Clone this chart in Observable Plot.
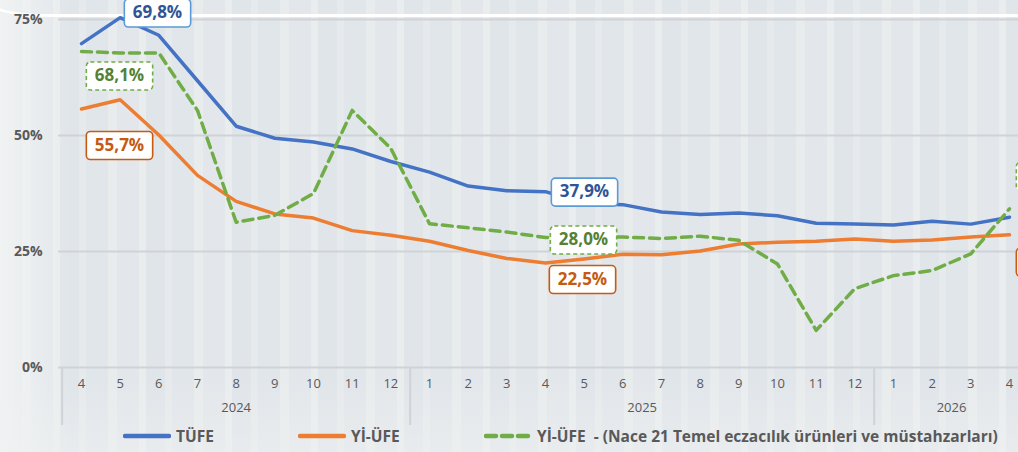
<!DOCTYPE html>
<html>
<head>
<meta charset="utf-8">
<script src="https://cdn.jsdelivr.net/npm/d3@7"></script>
<script src="https://cdn.jsdelivr.net/npm/@observablehq/plot@0.6"></script>
<style>
  html, body { margin: 0; padding: 0; }
  body {
    width: 1018px; height: 452px; overflow: hidden; position: relative;
    font-family: "Open Sans", sans-serif;
    background:
      linear-gradient(to right, rgba(241,243,243,0.95) 0px, rgba(241,243,243,0) 70px),
      linear-gradient(to bottom, rgba(255,255,255,0) 0px, rgba(255,255,255,0) 380px, rgba(238,240,240,0.6) 452px),
      repeating-linear-gradient(90deg, #e1e6eb 0 22px, #e9eced 22px 31px, #e3e7eb 31px 53px, #eaedee 53px 60px, #e0e5ea 60px 79px, #e7eaec 79px 86px);
  }
  #arc {
    position: absolute; left: -12px; top: -100px; width: 1100px; height: 114px;
    border-bottom: 3px solid #ffffff; border-left: 3px solid #ffffff;
    border-bottom-left-radius: 55px 16px; pointer-events: none;
  }
  #chart { position: absolute; left: 0; top: 0; }
  #legend { position: absolute; left: 0; top: 424px; width: 1018px; height: 28px; }
  .item { position: absolute; top: 12px; transform: translateY(-50%); display: flex; align-items: center;
    font-weight: 700; font-size: 15.5px; color: #595959; white-space: pre; }
  .item svg { margin-right: 5px; }
</style>
</head>
<body>
<div id="arc"></div>
<div id="chart"></div>
<div id="legend"></div>
<script>
// ---- data ----
const months = ["4","5","6","7","8","9","10","11","12","1","2","3","4","5","6","7","8","9","10","11","12","1","2","3","4"];
const years = ["2024", "2025", "2026"];
const yearFirst = [0, 9, 21];
const yearLast = [8, 20, 24];
const tufe   = [69.8, 75.4, 71.6, 61.8, 52.0, 49.4, 48.6, 47.1, 44.4, 42.1, 39.1, 38.1, 37.9, 35.4, 35.1, 33.5, 33.0, 33.3, 32.7, 31.1, 30.9, 30.7, 31.5, 30.9, 32.4];
const yiufe  = [55.7, 57.7, 50.1, 41.4, 35.8, 33.1, 32.2, 29.5, 28.5, 27.2, 25.2, 23.5, 22.5, 23.4, 24.4, 24.3, 25.1, 26.6, 27.0, 27.2, 27.7, 27.2, 27.5, 28.1, 28.6];
const nace21 = [68.1, 67.8, 67.8, 55.4, 31.3, 32.8, 37.5, 55.4, 47.2, 31.0, 30.1, 29.2, 28.0, 28.1, 28.1, 27.8, 28.3, 27.4, 22.3, 8.0, 17.0, 19.8, 20.9, 24.5, 34.2];
const yTicks = [0, 25, 50, 75];
const seriesNames = ["TÜFE", "Yİ-ÜFE", "Yİ-ÜFE  - (Nace 21 Temel eczacılık ürünleri ve müstahzarları)"];

// ---- build ----
const idx = d3.range(months.length);
const toRows = arr => arr.map((v, i) => ({i, v}));
const fmt = v => d3.format(".1f")(v).replace(".", ",") + "%";
const BLUE = "#4472c4", ORANGE = "#ed7d31", GREEN = "#70ad47";
const BLUE_T = "#2f5597", ORANGE_T = "#c55a11", GREEN_T = "#548235";

const label = (arr, i, color, dx, dy) => Plot.text([{i, v: arr[i]}], {
  x: "i", y: "v", text: d => fmt(d.v), dx, dy,
  fill: color, fontSize: 17, fontWeight: 700, fontFamily: "Open Sans", textAnchor: "middle"
});

const separators = [yearFirst[0] - 0.5, yearLast[0] + 0.5, yearLast[1] + 0.5];

const chart = Plot.plot({
  width: 1018,
  height: 424,
  marginLeft: 58, marginRight: 0, marginTop: 19, marginBottom: 57,
  style: {background: "transparent", overflow: "visible", fontFamily: "Open Sans"},
  x: {type: "linear", domain: [0, months.length - 1], range: [81, 1009], label: null},
  y: {domain: [0, 75], range: [367, 19], label: null},
  marks: [
    Plot.gridY(yTicks, {stroke: "#cfd3d7", strokeOpacity: 1, strokeWidth: 2}),
    Plot.ruleX(separators, {y1: 0, y2: -12.5, stroke: "#cfd3d7", strokeWidth: 2}),
    Plot.axisY({ticks: yTicks, tickFormat: d => d + "%", tickSize: 0, tickPadding: 16, label: null,
      fontSize: 14, fontWeight: 700, fill: "#595959"}),
    Plot.axisX({ticks: idx, tickFormat: i => months[i], tickSize: 0, tickPadding: 11, label: null,
      fontSize: 13, fill: "#595959"}),
    Plot.text(years, {x: (d, k) => (yearFirst[k] + yearLast[k]) / 2, text: d => d,
      frameAnchor: "bottom", dy: 44, fontSize: 13, fill: "#595959"}),
    Plot.line(toRows(yiufe), {x: "i", y: "v", stroke: ORANGE, strokeWidth: 3.5}),
    Plot.line(toRows(tufe), {x: "i", y: "v", stroke: BLUE, strokeWidth: 3.5}),
    Plot.line(toRows(nace21), {x: "i", y: "v", stroke: GREEN, strokeWidth: 3.5, strokeDasharray: "10,6"}),
    label(tufe, 0, BLUE_T, 76, -31),
    label(nace21, 0, GREEN_T, 38, 24),
    label(yiufe, 0, ORANGE_T, 38, 36),
    label(tufe, 12, BLUE_T, 39, 0),
    label(nace21, 12, GREEN_T, 38, 2),
    label(yiufe, 12, ORANGE_T, 37, 16),
    label(nace21, 24, GREEN_T, 40, -33),
    label(tufe, 24, BLUE_T, 43, 0),
    label(yiufe, 24, ORANGE_T, 40, 27)
  ]
});
document.getElementById("chart").append(chart);

// boxes behind labels
const boxStyles = [[BLUE_T, "#5b9bd5", null], [GREEN_T, GREEN, "4,3"], [ORANGE_T, ORANGE_T, null]];
for (const [fill, stroke, dash] of boxStyles) {
  chart.querySelectorAll(`g[fill="${fill}"] text`).forEach(t => {
    const b = t.getBBox();
    const r = document.createElementNS("http://www.w3.org/2000/svg", "rect");
    r.setAttribute("x", b.x - 8.5);
    r.setAttribute("y", b.y - 1);
    r.setAttribute("width", b.width + 17);
    r.setAttribute("height", b.height + 5);
    r.setAttribute("rx", 4);
    r.setAttribute("fill", "#ffffff");
    r.setAttribute("stroke", stroke);
    r.setAttribute("stroke-width", 1.6);
    if (dash) r.setAttribute("stroke-dasharray", dash);
    const tr = t.getAttribute("transform");
    if (tr) r.setAttribute("transform", tr);
    t.parentNode.insertBefore(r, t);
  });
}

// legend
const legend = document.getElementById("legend");
const legendItems = [
  {name: seriesNames[0], color: BLUE, dash: null, left: 123},
  {name: seriesNames[1], color: ORANGE, dash: null, left: 298},
  {name: seriesNames[2], color: GREEN, dash: "10,6", left: 484}
];
for (const it of legendItems) {
  const div = document.createElement("div");
  div.className = "item";
  div.style.left = it.left + "px";
  div.innerHTML = `<svg width="48" height="6"><line x1="2" x2="46" y1="3" y2="3" stroke="${it.color}" stroke-width="4.5" stroke-linecap="round" ${it.dash ? `stroke-dasharray="${it.dash}"` : ""}/></svg><span>${it.name}</span>`;
  legend.append(div);
}
</script>
</body>
</html>
